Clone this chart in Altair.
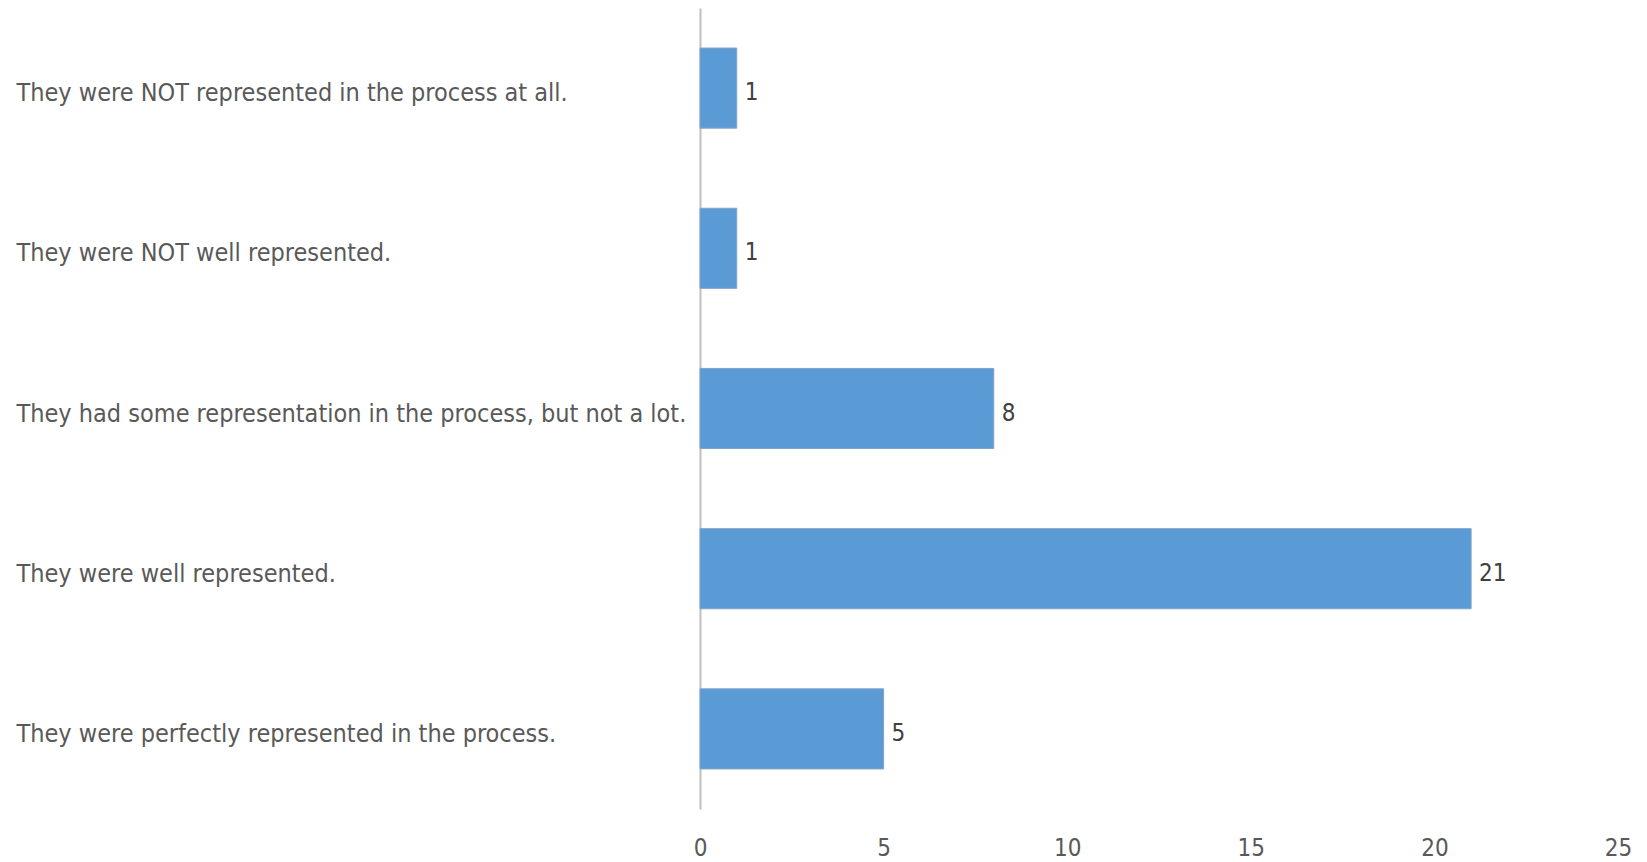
import altair as alt
import pandas as pd

categories = [
    "They were NOT represented in the process at all.",
    "They were NOT well represented.",
    "They had some representation in the process, but not a lot.",
    "They were well represented.",
    "They were perfectly represented in the process.",
]
values = [1, 1, 8, 21, 5]
x_ticks = [0, 5, 10, 15, 20, 25]

df = pd.DataFrame({"category": categories, "value": values})

FONT = "DejaVu Sans Condensed, Roboto Condensed, Liberation Sans, sans-serif"
GREY = "#595959"

base = alt.Chart(df).encode(
    y=alt.Y(
        "category:N",
        sort=categories,
        scale=alt.Scale(paddingInner=0.5, paddingOuter=0.25),
        axis=alt.Axis(
            title=None,
            labelAlign="left",
            labelBaseline="middle",
            labelPadding=684,
            labelOffset=5,
            tickSize=0,
            ticks=False,
            labelLimit=2000,
            labelFont=FONT,
            labelFontSize=25,
            labelColor=GREY,
            domainColor="#BFBFBF",
            domainWidth=2,
        ),
    ),
)

bars = base.mark_bar(color="#5B9BD5", stroke="#7FA3C8", strokeWidth=1).encode(
    x=alt.X(
        "value:Q",
        scale=alt.Scale(domain=[0, 25], nice=False),
        axis=alt.Axis(
            title=None,
            values=x_ticks,
            grid=False,
            domain=False,
            ticks=False,
            labelFlush=False,
            labelPadding=27,
            labelFont=FONT,
            labelFontSize=24,
            labelColor=GREY,
        ),
    )
)

labels = base.mark_text(
    align="left", baseline="middle", dx=8, dy=5, font=FONT, fontSize=24, color="#404040"
).encode(x="value:Q", text="value:Q")

chart = (
    (bars + labels)
    .properties(
        width=918,
        height=801,
        background="white",
        autosize=alt.AutoSizeParams(type="none"),
        padding={"left": 700, "top": 8, "right": 29, "bottom": 53},
    )
    .configure_view(stroke=None, strokeWidth=0)
)

chart.save("out.html", embed_options={"renderer": "svg", "actions": False})
